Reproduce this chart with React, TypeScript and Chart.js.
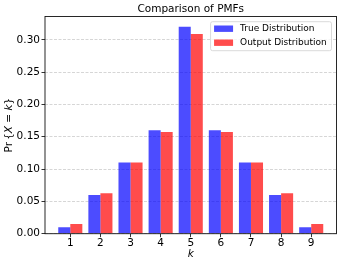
import React, { useEffect, useRef } from "react";
import { Chart, registerables } from "chart.js";

Chart.register(...registerables);

const categories = [1, 2, 3, 4, 5, 6, 7, 8, 9];
const trueValues = [0.01, 0.06, 0.11, 0.16, 0.32, 0.16, 0.11, 0.06, 0.01];
const outputValues = [0.015, 0.0625, 0.11, 0.1575, 0.309, 0.1575, 0.11, 0.0625, 0.015];
const yTicks = [0, 0.05, 0.1, 0.15, 0.2, 0.25, 0.3];
const seriesNames = ["True Distribution", "Output Distribution"];
const titleText = "Comparison of PMFs";

const FONT = "'DejaVu Sans', sans-serif";
const BLUE = "rgba(0,0,255,0.7)";
const RED = "rgba(255,0,0,0.7)";

const overlayPlugin = {
  id: "overlay",
  afterDraw(chart: any) {
    const ctx = chart.ctx as CanvasRenderingContext2D;
    const a = chart.chartArea;
    ctx.save();
    // frame
    ctx.strokeStyle = "#111";
    ctx.lineWidth = 0.9;
    ctx.strokeRect(a.left, a.top, a.right - a.left, a.bottom - a.top);

    // title
    ctx.fillStyle = "#000";
    ctx.font = `10.5px ${FONT}`;
    ctx.textAlign = "center";
    ctx.textBaseline = "middle";
    ctx.fillText(titleText, (a.left + a.right) / 2, 9.5);

    // x label
    ctx.font = `italic 10.5px ${FONT}`;
    ctx.fillText("k", (a.left + a.right) / 2, 254);

    // y label, mixed fonts
    const parts: [string, boolean][] = [
      ["Pr", false],
      ["\u2009{", false],
      ["X", true],
      [" = ", false],
      ["k", true],
      ["}", false],
    ];
    const fontFor = (it: boolean) => `${it ? "italic " : ""}10.5px ${FONT}`;
    let total = 0;
    for (const [t, it] of parts) {
      ctx.font = fontFor(it);
      total += ctx.measureText(t).width;
    }
    ctx.translate(9.5, (a.top + a.bottom) / 2);
    ctx.rotate(-Math.PI / 2);
    ctx.textAlign = "left";
    let x = -total / 2;
    for (const [t, it] of parts) {
      ctx.font = fontFor(it);
      ctx.fillText(t, x, 0);
      x += ctx.measureText(t).width;
    }
    ctx.setTransform(1, 0, 0, 1, 0, 0);

    // legend
    ctx.font = `9px ${FONT}`;
    const textW = Math.max(...seriesNames.map((s) => ctx.measureText(s).width));
    const right = a.right - 5;
    const top = a.top + 5.2;
    const w = textW + 34.3;
    const h = 29;
    const left = right - w;
    ctx.beginPath();
    const r = 2;
    ctx.moveTo(left + r, top);
    ctx.lineTo(right - r, top);
    ctx.quadraticCurveTo(right, top, right, top + r);
    ctx.lineTo(right, top + h - r);
    ctx.quadraticCurveTo(right, top + h, right - r, top + h);
    ctx.lineTo(left + r, top + h);
    ctx.quadraticCurveTo(left, top + h, left, top + h - r);
    ctx.lineTo(left, top + r);
    ctx.quadraticCurveTo(left, top, left + r, top);
    ctx.closePath();
    ctx.fillStyle = "rgba(255,255,255,0.8)";
    ctx.fill();
    ctx.strokeStyle = "#d0d0d0";
    ctx.lineWidth = 0.8;
    ctx.stroke();
    const colors = [BLUE, RED];
    seriesNames.forEach((s, i) => {
      const cy = top + 7 + i * 14;
      ctx.fillStyle = colors[i];
      ctx.fillRect(left + 3.5, cy - 3.2, 19, 6.4);
      ctx.fillStyle = "#000";
      ctx.textAlign = "left";
      ctx.textBaseline = "middle";
      ctx.fillText(s, left + 29.5, cy);
    });
    ctx.restore();
  },
};

export default function App() {
  const ref = useRef<HTMLCanvasElement | null>(null);
  useEffect(() => {
    document.body.style.margin = "0";
    if (!ref.current) return;
    const chart = new Chart(ref.current, {
      type: "bar",
      data: {
        datasets: [
          {
            label: seriesNames[0],
            data: categories.map((c, i) => ({ x: c, y: trueValues[i] })),
            backgroundColor: BLUE,
            borderWidth: 0,
          },
          {
            label: seriesNames[1],
            data: categories.map((c, i) => ({ x: c, y: outputValues[i] })),
            backgroundColor: RED,
            borderWidth: 0,
          },
        ],
      },
      options: {
        responsive: false,
        animation: false,
        devicePixelRatio: 1,
        datasets: { bar: { categoryPercentage: 0.8, barPercentage: 1.0 } },
        layout: { padding: { left: 0, right: 4.5, top: 16.5, bottom: 0 } },
        plugins: { legend: { display: false }, title: { display: false }, tooltip: { enabled: false } },
        scales: {
          x: {
            type: "linear",
            min: 0.16,
            max: 9.84,
            offset: false,
            afterBuildTicks: (s: any) => {
              s.ticks = categories.map((v) => ({ value: v }));
            },
            afterFit: (s: any) => {
              s.height = 32.3;
            },
            ticks: {
              autoSkip: false,
              maxRotation: 0,
              padding: 0,
              color: "#000",
              font: { family: FONT, size: 10.5 },
              callback: (v: any) => String(v),
            },
            grid: {
              display: true,
              offset: false,
              drawOnChartArea: false,
              drawTicks: true,
              tickLength: 3.5,
              tickColor: "#000",
              tickWidth: 0.8,
            },
            border: { display: false },
          },
          y: {
            type: "linear",
            min: 0,
            max: 0.336,
            afterBuildTicks: (s: any) => {
              s.ticks = yTicks.map((v) => ({ value: v }));
            },
            afterFit: (s: any) => {
              s.width = 45;
            },
            ticks: {
              padding: 1.5,
              color: "#000",
              font: { family: FONT, size: 10.5 },
              callback: (v: any) => Number(v).toFixed(2),
            },
            grid: {
              display: true,
              color: "#cccccc",
              lineWidth: 0.8,
              drawTicks: true,
              tickLength: 3.5,
              tickColor: "#000",
              tickWidth: 0.8,
              tickBorderDash: [],
            },
            border: { display: false, dash: [3, 1.5] },
          },
        },
      },
      plugins: [overlayPlugin],
    } as any);
    return () => chart.destroy();
  }, []);
  return <canvas ref={ref} width={341} height={266} style={{ display: "block" }} />;
}
